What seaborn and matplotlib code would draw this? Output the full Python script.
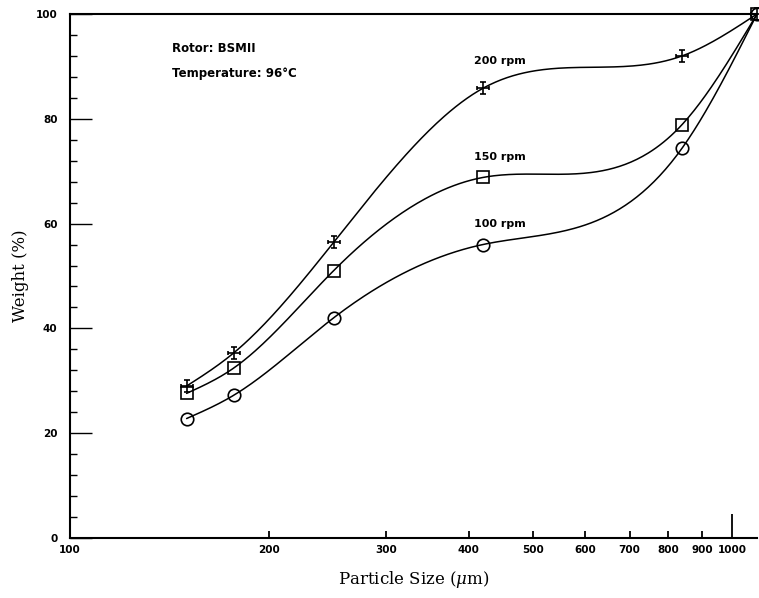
import numpy as np
import pandas as pd
import matplotlib
matplotlib.use("Agg")
import matplotlib.pyplot as plt
from matplotlib.path import Path
from matplotlib.ticker import FixedLocator, MultipleLocator, NullLocator
import seaborn as sns

# Data
size_um = [150, 177, 250, 420, 840, 1090]
rpm200 = [29.0, 35.4, 56.4, 85.8, 92.0, 100.0]
rpm150 = [27.6, 32.5, 51.0, 68.8, 78.9, 100.0]
rpm100 = [22.8, 27.3, 42.0, 56.0, 74.4, 100.0]

series_names = ["200 rpm", "150 rpm", "100 rpm"]
x_ticks = [100, 200, 300, 400, 500, 600, 700, 800, 900, 1000]
y_ticks = [0, 20, 40, 60, 80, 100]

sns.set_style("white")
plt.rcParams["font.family"] = ["DejaVu Sans"]
plt.rcParams["mathtext.fontset"] = "dejavuserif"
plt.rcParams["text.color"] = "black"
plt.rcParams["axes.labelcolor"] = "black"
plt.rcParams["xtick.color"] = "black"
plt.rcParams["ytick.color"] = "black"


def natural_spline(x, y, xs):
    # smooth curve through the measured points (in log10 x)
    x = np.asarray(x, float)
    y = np.asarray(y, float)
    n = len(x)
    h = np.diff(x)
    A = np.zeros((n, n))
    r = np.zeros(n)
    A[0, 0] = A[-1, -1] = 1
    for i in range(1, n - 1):
        A[i, i - 1] = h[i - 1]
        A[i, i] = 2 * (h[i - 1] + h[i])
        A[i, i + 1] = h[i]
        r[i] = 6 * ((y[i + 1] - y[i]) / h[i] - (y[i] - y[i - 1]) / h[i - 1])
    M = np.linalg.solve(A, r)
    k = np.clip(np.searchsorted(x, xs) - 1, 0, n - 2)
    hk = h[k]
    a = x[k + 1] - xs
    b = xs - x[k]
    return (M[k] * a ** 3 / (6 * hk) + M[k + 1] * b ** 3 / (6 * hk)
            + (y[k] / hk - M[k] * hk / 6) * a + (y[k + 1] / hk - M[k + 1] * hk / 6) * b)


# marker: cross with end caps
cross_verts = [(0, -1), (0, 1), (-0.45, 1), (0.45, 1), (-0.45, -1), (0.45, -1),
               (-1, 0), (1, 0), (-1, -0.35), (-1, 0.35), (1, -0.35), (1, 0.35)]
cross_codes = [Path.MOVETO, Path.LINETO] * 6
cross_marker = Path(cross_verts, cross_codes)

fig = plt.figure(figsize=(7.59, 5.98), dpi=100)
ax = fig.add_axes([0.0922, 0.1003, 0.9052, 0.8763])

lx = np.log10(size_um)
xs = np.linspace(lx[0], lx[-1], 300)
markers = [cross_marker, "s", "o"]
msizes = [9, 8.5, 9]
for name, vals, mk, ms in zip(series_names, [rpm200, rpm150, rpm100], markers, msizes):
    curve = pd.DataFrame({"x": 10 ** xs, "y": natural_spline(lx, vals, xs)})
    sns.lineplot(data=curve, x="x", y="y", ax=ax, color="black", lw=1.1, clip_on=False)
    pts = pd.DataFrame({"x": size_um, "y": vals})
    ax.plot(pts["x"], pts["y"], ls="none", marker=mk, ms=ms, mfc="none", mec="black",
            mew=1.2, clip_on=False, zorder=5)

ax.set_xscale("log")
ax.set_xlim(100, size_um[-1])
ax.set_ylim(0, 100)

ax.xaxis.set_major_locator(FixedLocator(x_ticks))
ax.xaxis.set_minor_locator(NullLocator())
ax.set_xticklabels([str(t) for t in x_ticks])
ax.yaxis.set_major_locator(FixedLocator(y_ticks))
ax.yaxis.set_minor_locator(MultipleLocator(4))
ax.set_yticklabels([str(t) for t in y_ticks])

ax.tick_params(axis="x", which="major", direction="in", length=5, width=1.3,
               labelsize=7.5, pad=5, bottom=True)
ax.tick_params(axis="y", which="major", direction="in", length=16, width=1.0,
               labelsize=7.5, pad=9, left=True)
ax.tick_params(axis="y", which="minor", direction="in", length=5, width=1.0, left=True)
for lab in ax.get_xticklabels() + ax.get_yticklabels():
    lab.set_fontweight("bold")
# long tick at 1000
ax.xaxis.get_major_ticks()[-1].tick1line.set_markersize(17)

for s in ["left", "bottom", "top"]:
    ax.spines[s].set_linewidth(1.5)
    ax.spines[s].set_color("black")
ax.spines["right"].set_visible(False)

ax.set_xlabel("Particle Size ($\\mu$m)", family="DejaVu Serif", fontsize=12, labelpad=10)
ax.set_ylabel("Weight (%)", family="DejaVu Serif", fontsize=12, labelpad=5)

ax.text(0.149, 0.934, "Rotor: BSMII", transform=ax.transAxes, fontsize=8.5,
        fontweight="bold", va="center")
ax.text(0.149, 0.886, "Temperature: 96°C", transform=ax.transAxes, fontsize=8.5,
        fontweight="bold", va="center")
label_dy = [20, 15, 14.5]
for name, vals, dy in zip(series_names, [rpm200, rpm150, rpm100], label_dy):
    ax.annotate(name, (size_um[3], vals[3]), xytext=(-6, dy), textcoords="offset points",
                fontsize=8, fontweight="bold", va="center")

fig.savefig("out.png", dpi=100)
